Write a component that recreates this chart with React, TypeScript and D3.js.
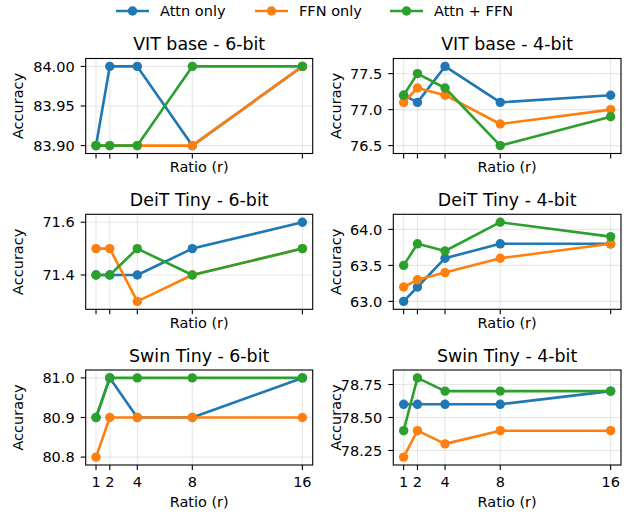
import React from "react";
import * as d3 from "d3";

const ratios = [1, 2, 4, 8, 16];
const seriesNames = ["Attn only", "FFN only", "Attn + FFN"];
const seriesColors = ["#1f77b4", "#ff7f0e", "#2ca02c"];

const titles = [
  "VIT base - 6-bit",
  "VIT base - 4-bit",
  "DeiT Tiny - 6-bit",
  "DeiT Tiny - 4-bit",
  "Swin Tiny - 6-bit",
  "Swin Tiny - 4-bit",
];

const vitBase6 = [
  [83.9, 84.0, 84.0, 83.9, 84.0],
  [83.9, 83.9, 83.9, 83.9, 84.0],
  [83.9, 83.9, 83.9, 84.0, 84.0],
];
const vitBase4 = [
  [77.2, 77.1, 77.6, 77.1, 77.2],
  [77.1, 77.3, 77.2, 76.8, 77.0],
  [77.2, 77.5, 77.3, 76.5, 76.9],
];
const deitTiny6 = [
  [71.4, 71.4, 71.4, 71.5, 71.6],
  [71.5, 71.5, 71.3, 71.4, 71.5],
  [71.4, 71.4, 71.5, 71.4, 71.5],
];
const deitTiny4 = [
  [63.0, 63.2, 63.6, 63.8, 63.8],
  [63.2, 63.3, 63.4, 63.6, 63.8],
  [63.5, 63.8, 63.7, 64.1, 63.9],
];
const swinTiny6 = [
  [80.9, 81.0, 80.9, 80.9, 81.0],
  [80.8, 80.9, 80.9, 80.9, 80.9],
  [80.9, 81.0, 81.0, 81.0, 81.0],
];
const swinTiny4 = [
  [78.6, 78.6, 78.6, 78.6, 78.7],
  [78.2, 78.4, 78.3, 78.4, 78.4],
  [78.4, 78.8, 78.7, 78.7, 78.7],
];

const yTicks = [
  [83.9, 83.95, 84.0],
  [76.5, 77.0, 77.5],
  [71.4, 71.6],
  [63.0, 63.5, 64.0],
  [80.8, 80.9, 81.0],
  [78.25, 78.5, 78.75],
];
const yTickDecimals = [2, 1, 1, 1, 1, 2];

const panelData = [vitBase6, vitBase4, deitTiny6, deitTiny4, swinTiny6, swinTiny4];

const W = 627;
const H = 517;
const colLeft = [85.7, 393.3];
const colRight = [312.7, 621];
const rowTop = [58.5, 214.3, 370];
const axH = 95;
const FONT = "DejaVu Sans, sans-serif";
const fs = 14.5;
const titleFs = 17.4;

function Panel({ idx }: { idx: number }) {
  const col = idx % 2;
  const row = Math.floor(idx / 2);
  const left = colLeft[col];
  const right = colRight[col];
  const top = rowTop[row];
  const bottom = top + axH;
  const data = panelData[idx];
  const all = data.flat();
  const mn = d3.min(all) as number;
  const mx = d3.max(all) as number;
  const pad = (mx - mn) * 0.1;
  const x = d3.scaleLinear().domain([1 - 0.75, 16 + 0.75]).range([left, right]);
  const y = d3.scaleLinear().domain([mn - pad, mx + pad]).range([bottom, top]);
  const line = d3
    .line<number>()
    .x((_, i) => x(ratios[i]))
    .y((v) => y(v));
  const isBottom = row === 2;
  const fmt = d3.format(`.${yTickDecimals[idx]}f`);
  const accX = col === 0 ? 22.5 : 340.5;
  return (
    <g>
      {ratios.map((r) => (
        <line key={`gx${r}`} x1={x(r)} x2={x(r)} y1={top} y2={bottom} stroke="#b0b0b0" strokeOpacity={0.3} strokeWidth={1.1} />
      ))}
      {yTicks[idx].map((t) => (
        <line key={`gy${t}`} x1={left} x2={right} y1={y(t)} y2={y(t)} stroke="#b0b0b0" strokeOpacity={0.3} strokeWidth={1.1} />
      ))}
      {data.map((s, si) => (
        <g key={si}>
          <path d={line(s) as string} fill="none" stroke={seriesColors[si]} strokeWidth={2.6} strokeLinejoin="round" />
          {s.map((v, i) => (
            <circle key={i} cx={x(ratios[i])} cy={y(v)} r={4.7} fill={seriesColors[si]} />
          ))}
        </g>
      ))}
      <rect x={left} y={top} width={right - left} height={axH} fill="none" stroke="#000" strokeWidth={1.1} />
      {ratios.map((r) => (
        <g key={`xt${r}`}>
          <line x1={x(r)} x2={x(r)} y1={bottom} y2={bottom + 5} stroke="#000" strokeWidth={1.1} />
          {isBottom && (
            <text x={x(r)} y={bottom + 21.5} textAnchor="middle" fontSize={fs} fontFamily={FONT} fill="#000">
              {r}
            </text>
          )}
        </g>
      ))}
      {yTicks[idx].map((t) => (
        <g key={`yt${t}`}>
          <line x1={left - 5} x2={left} y1={y(t)} y2={y(t)} stroke="#000" strokeWidth={1.1} />
          <text x={left - 11} y={y(t)} dy="0.36em" textAnchor="end" fontSize={fs} fontFamily={FONT} fill="#000">
            {fmt(t)}
          </text>
        </g>
      ))}
      <text x={(left + right) / 2} y={top - 8.3} textAnchor="middle" fontSize={titleFs} fontFamily={FONT} fill="#000">
        {titles[idx]}
      </text>
      <text x={(left + right) / 2} y={bottom + (isBottom ? 42 : 18.5)} textAnchor="middle" fontSize={fs} fontFamily={FONT} fill="#000">
        Ratio (r)
      </text>
      <text
        transform={`translate(${accX},${(top + bottom) / 2}) rotate(-90)`}
        textAnchor="middle"
        fontSize={fs}
        fontFamily={FONT}
        fill="#000"
      >
        Accuracy
      </text>
    </g>
  );
}

const legendHandleX = [116, 255, 390];
const legendY = 11;

export default function App() {
  return (
    <svg
      width={W}
      height={H}
      viewBox={`0 0 ${W} ${H}`}
      style={{ display: "block", background: "#fff", position: "absolute", left: 0, top: 0 }}
    >
      <rect x={0} y={0} width={W} height={H} fill="#fff" />
      {panelData.map((_, i) => (
        <Panel key={i} idx={i} />
      ))}
      {seriesNames.map((name, i) => (
        <g key={name}>
          <line x1={legendHandleX[i]} x2={legendHandleX[i] + 33} y1={legendY} y2={legendY} stroke={seriesColors[i]} strokeWidth={2.6} />
          <circle cx={legendHandleX[i] + 16.5} cy={legendY} r={4.7} fill={seriesColors[i]} />
          <text x={legendHandleX[i] + 44} y={legendY} dy="0.36em" fontSize={fs} fontFamily={FONT} fill="#000">
            {name}
          </text>
        </g>
      ))}
    </svg>
  );
}
